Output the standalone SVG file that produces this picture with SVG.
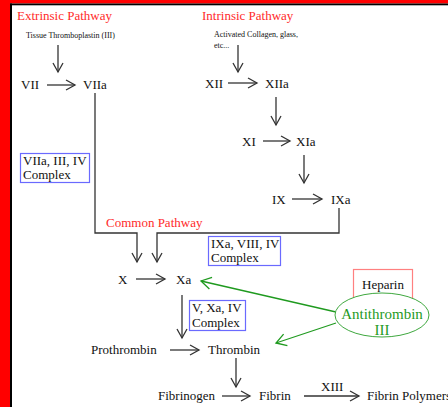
<svg xmlns="http://www.w3.org/2000/svg" width="448" height="407" viewBox="0 0 448 407">
<defs>
<marker id="ah" markerUnits="userSpaceOnUse" markerWidth="14" markerHeight="14" viewBox="-12 -7 14 14" refX="0" refY="0" orient="auto">
<path d="M-9,-5 L0,0 L-9,5" fill="none" stroke="#333" stroke-width="1.3"/>
</marker>
<marker id="ahg" markerUnits="userSpaceOnUse" markerWidth="14" markerHeight="14" viewBox="-12 -7 14 14" refX="0" refY="0" orient="auto">
<path d="M-10,-6 L0,0 L-10,6" fill="none" stroke="#1f9a1f" stroke-width="1.3"/>
</marker>
</defs>
<style>
text{font-family:"Liberation Serif","Times New Roman",serif;fill:#111}
.t{font-size:13px}
.s{font-size:8px}
.red{fill:#ff2a2a;font-size:13px}
.grn{fill:#1f9a1f;font-size:15px}
.ln{fill:none;stroke:#333;stroke-width:1.3}
.arr{fill:none;stroke:#333;stroke-width:1.3;marker-end:url(#ah)}
.garr{fill:none;stroke:#1f9a1f;stroke-width:1.3;marker-end:url(#ahg)}
.box{fill:#fff;stroke:#6a6aff;stroke-width:1.2}
</style>
<rect x="0" y="0" width="448" height="407" fill="#fff"/>
<rect x="0" y="0" width="448" height="3.5" fill="#ff0000"/>
<rect x="0" y="0" width="10" height="407" fill="#ff0000"/>
<rect x="10" y="3.5" width="438" height="1.8" fill="#000"/>
<rect x="10" y="3.5" width="2" height="403.5" fill="#000"/>

<g id="connectors">
<path class="arr" d="M58,45 V72"/>
<path class="arr" d="M47,85 H75"/>
<path class="arr" d="M238,45 V72"/>
<path class="arr" d="M228,83 H257"/>
<path class="arr" d="M276,97 V125"/>
<path class="arr" d="M263,141 H290"/>
<path class="arr" d="M304,155 V183"/>
<path class="arr" d="M292,199 H322"/>
<path class="arr" d="M95,93 V233 H137 V262"/>
<path class="arr" d="M339,208 V233 H157 V262"/>
<path class="arr" d="M136,279 H165"/>
<path class="arr" d="M182,295 V338"/>
<path class="arr" d="M170,350 H199"/>
<path class="arr" d="M236,358 V387"/>
<path class="arr" d="M222,396 H250"/>
<path class="arr" d="M304,396 H359"/>
<path class="garr" d="M336,312 L201,281"/>
<path class="garr" d="M336,323 L276,343"/>
</g>

<g id="extrinsic-label"><text class="red" x="17" y="20">Extrinsic Pathway</text></g>
<g id="intrinsic-label"><text class="red" x="202" y="20">Intrinsic Pathway</text></g>
<g id="common-label"><text class="red" x="106" y="227">Common Pathway</text></g>

<g id="tissue"><text class="s" x="26" y="38">Tissue Thromboplastin (III)</text></g>
<g id="activated"><text class="s" x="214" y="37">Activated Collagen, glass,</text><text class="s" x="214" y="48">etc...</text></g>

<g id="VII"><text class="t" x="21" y="89">VII</text></g>
<g id="VIIa"><text class="t" x="83" y="89">VIIa</text></g>
<g id="XII"><text class="t" x="205" y="88">XII</text></g>
<g id="XIIa"><text class="t" x="265" y="88">XIIa</text></g>
<g id="XI"><text class="t" x="242" y="146">XI</text></g>
<g id="XIa"><text class="t" x="296" y="146">XIa</text></g>
<g id="IX"><text class="t" x="272" y="204">IX</text></g>
<g id="IXa"><text class="t" x="331" y="204">IXa</text></g>

<g id="complex1"><rect class="box" x="20.5" y="153.5" width="69" height="29"/><text class="t" x="23" y="165">VIIa, III, IV</text><text class="t" x="23" y="179">Complex</text></g>
<g id="complex2"><rect class="box" x="208.5" y="236.5" width="72" height="29"/><text class="t" x="211" y="248">IXa, VIII, IV</text><text class="t" x="211" y="262">Complex</text></g>
<g id="complex3"><rect class="box" x="189.5" y="300.5" width="56" height="30"/><text class="t" x="192" y="312">V, Xa, IV</text><text class="t" x="192" y="327">Complex</text></g>

<g id="X"><text class="t" x="118" y="284">X</text></g>
<g id="Xa"><text class="t" x="176" y="284">Xa</text></g>
<g id="prothrombin"><text class="t" x="91" y="354">Prothrombin</text></g>
<g id="thrombin"><text class="t" x="208" y="354">Thrombin</text></g>
<g id="fibrinogen"><text class="t" x="158" y="400">Fibrinogen</text></g>
<g id="fibrin"><text class="t" x="259" y="400">Fibrin</text></g>
<g id="XIII"><text class="t" x="321" y="391">XIII</text></g>
<g id="polymers"><text class="t" x="367" y="400">Fibrin Polymers</text></g>

<g id="heparin"><rect x="353.5" y="269.5" width="59" height="32" fill="#fff" stroke="#ff8080" stroke-width="1.2"/><text class="t" x="383" y="289" text-anchor="middle">Heparin</text></g>
<g id="antithrombin"><ellipse cx="382" cy="315" rx="47" ry="22" fill="#fff" stroke="#3fa83f" stroke-width="1"/><text class="grn" x="382" y="319" text-anchor="middle">Antithrombin</text><text class="grn" x="382" y="335" text-anchor="middle">III</text></g>
</svg>
